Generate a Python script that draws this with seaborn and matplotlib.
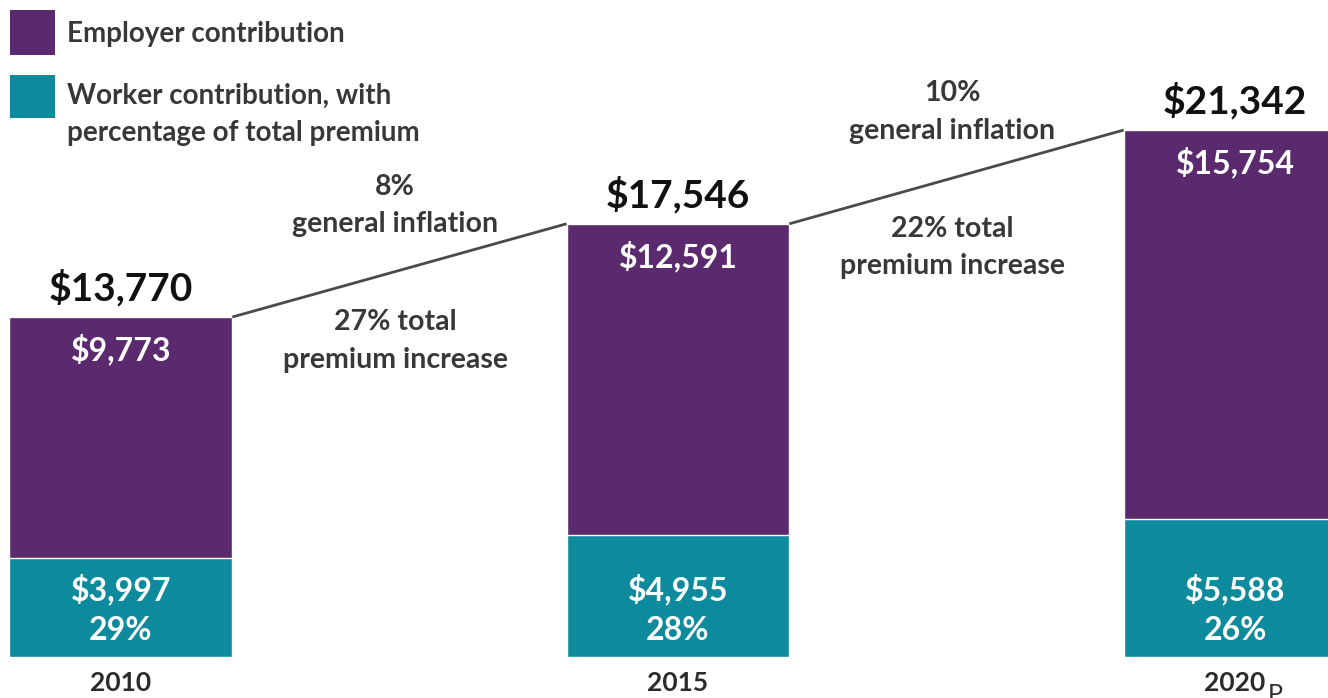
import numpy as np
import pandas as pd
import matplotlib.pyplot as plt
from matplotlib.patches import Rectangle
import seaborn as sns

# premium data (annual family premium, $)
years = ['2010', '2015', '2020']
employer = [9773, 12591, 15754]
worker = [3997, 4955, 5588]
total = [13770, 17546, 21342]
worker_pct = ['29%', '28%', '26%']
inflation_lbl = ['8%\ngeneral inflation', '10%\ngeneral inflation']
increase_lbl = ['27% total\npremium increase', '22% total\npremium increase']
legend_lbl = ['Employer contribution',
              'Worker contribution, with\npercentage of total premium']

purple = '#5b2a6e'
teal = '#0e8a9d'
dark = '#2b2b2b'
bar_w = 0.4
W, H = 1328, 698

sns.set_theme(style='white')
plt.rcParams['font.family'] = ['Lato', 'DejaVu Sans']

df = pd.DataFrame({'year': years, 'employer': employer,
                   'worker': worker, 'total': total})

fig = plt.figure(figsize=(W / 100, H / 100), dpi=100)
ax = fig.add_axes([0, 41 / H, 1, 657 / H])

# total bar in purple, worker share drawn over it in teal
sns.barplot(data=df, x='year', y='total', color=purple, width=bar_w,
            saturation=1, ax=ax)
sns.barplot(data=df, x='year', y='worker', color=teal, width=bar_w,
            saturation=1, ax=ax)

ax.set_xlim(-0.217, 2.167)
ax.set_ylim(0, 26610)
sns.despine(ax=ax, left=True, bottom=True)
ax.set_yticks([])
ax.set_xlabel('')
ax.set_ylabel('')
ax.tick_params(axis='x', length=0, pad=10, labelsize=19)
for t in ax.get_xticklabels():
    t.set_fontweight('bold')
    t.set_color(dark)

# value labels
for i in range(len(years)):
    ax.annotate(f'${total[i]:,}', (i, total[i]), xytext=(0, 12),
                textcoords='offset points', ha='center', va='baseline',
                fontsize=28, fontweight='bold', color='#111111')
    ax.annotate(f'${employer[i]:,}', (i, total[i]), xytext=(0, -31),
                textcoords='offset points', ha='center', va='baseline',
                fontsize=23, fontweight='bold', color='white')
    ax.annotate(f'${worker[i]:,}', (i, 0), xytext=(0, 41),
                textcoords='offset points', ha='center', va='baseline',
                fontsize=23, fontweight='bold', color='white')
    ax.annotate(worker_pct[i], (i, 0), xytext=(0, 12),
                textcoords='offset points', ha='center', va='baseline',
                fontsize=23, fontweight='bold', color='white')

# connector lines between bar tops with growth notes
for i in range(len(years) - 1):
    x0, x1 = i + bar_w / 2, i + 1 - bar_w / 2
    ax.plot([x0, x1], [total[i], total[i + 1]], color='#4a4a4a', lw=2,
            solid_capstyle='butt')
    xm, ym = (x0 + x1) / 2, (total[i] + total[i + 1]) / 2
    ax.annotate(inflation_lbl[i], (xm, ym), xytext=(-3, 24),
                textcoords='offset points', ha='center', va='bottom',
                fontsize=20.5, fontweight='bold', color='#383838',
                linespacing=1.55)
    ax.annotate(increase_lbl[i], (xm, ym), xytext=(-3, -28),
                textcoords='offset points', ha='center', va='top',
                fontsize=20.5, fontweight='bold', color='#383838',
                linespacing=1.55)

# legend block, top-left (square top, square height, text baselines in px)
leg_rows = [(10, 45, [42]), (75, 43, [104, 141])]
for (y_top, h, baselines), col, lbl in zip(leg_rows, [purple, teal],
                                           legend_lbl):
    fig.add_artist(Rectangle((10 / W, 1 - (y_top + h) / H), 45 / W, h / H,
                             transform=fig.transFigure, color=col, lw=0))
    for yb, line in zip(baselines, lbl.split('\n')):
        fig.text(67 / W, 1 - yb / H, line, fontsize=20,
                 fontweight='bold', color='#383838', va='baseline')

fig.text(1268 / W, -0.012, 'P', fontsize=18, color=dark, va='bottom')

fig.savefig('out.png', dpi=100)
